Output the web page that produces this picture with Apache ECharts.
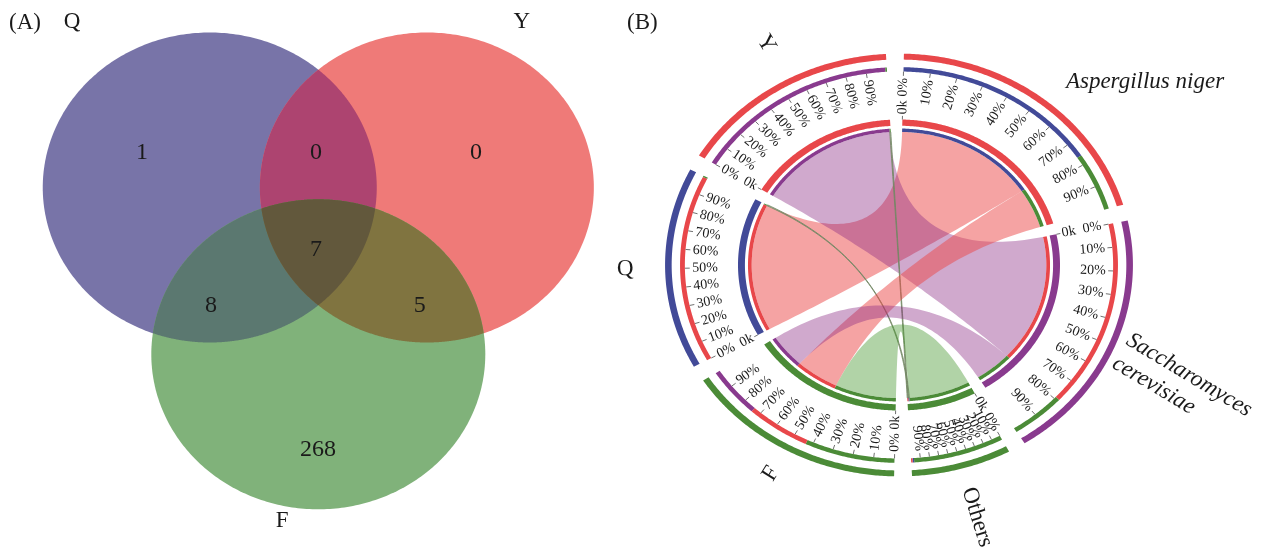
<!DOCTYPE html>
<html>
<head>
<meta charset="utf-8">
<script src="https://cdn.jsdelivr.net/npm/echarts@6/dist/echarts.min.js"></script>
<style>
  html, body { margin: 0; padding: 0; background: #ffffff; }
  #chart { width: 1282px; height: 559px; }
</style>
</head>
<body>
<div id="chart"></div>
<script>
// ---------- data ----------
// Venn: sets and the number of members in each region
const vennSets = ['Q', 'Y', 'F'];
const vennRegions = ['Q', 'Y', 'F', 'QY', 'QF', 'YF', 'QYF'];
const vennCounts = [1, 0, 268, 0, 8, 5, 7];

// Chord: flows from each sample to each taxon
const samples = ['Q', 'Y', 'F'];
const taxa = ['Aspergillus niger', 'Saccharomyces cerevisiae', 'Others'];
const flowQ = [55, 0, 0.4];
const flowY = [0, 55, 0.4];
const flowF = [17, 14.5, 24];
const percentTicks = ['0%', '10%', '20%', '30%', '40%', '50%', '60%', '70%', '80%', '90%'];
const startTickLabel = '0k';

// ---------- styling / layout ----------
const SERIF = '"Liberation Serif", "Times New Roman", serif';
const TEXT = '#1a1a1a';

const vennCenters = { Q: [-0.65, 0.358], Y: [0.65, 0.358], F: [0, -0.718] };
const vennFill = {
  Q: '#7874a8', Y: '#ef7a78', F: '#80b27a',
  QY: '#ad4470', QF: '#5b7870', YF: '#807440', QYF: '#62583c'
};
const vennLabelPos = {
  Q: [-1.055, 0.58], Y: [0.944, 0.58], F: [-0.002, -1.335],
  QY: [-0.014, 0.58], QF: [-0.642, -0.406], YF: [0.608, -0.406], QYF: [-0.014, -0.045]
};
const vennSetLabelPos = { Q: [-1.475, 1.426], Y: [1.219, 1.426], F: [-0.217, -1.794] };

// sectors clockwise from 12 o'clock
const sectorOrder = [taxa[0], taxa[1], taxa[2], samples[2], samples[0], samples[1]];
const RED = '#e8474a', BLUE = '#424a98', PURPLE = '#893a8e', GREEN = '#4b8b37';
const sectorColor = {
  'Aspergillus niger': RED, 'Saccharomyces cerevisiae': PURPLE, 'Others': GREEN,
  F: GREEN, Q: BLUE, Y: RED
};
const ribbonColor = {
  'Aspergillus niger': 'rgba(235,72,72,0.5)',
  'Saccharomyces cerevisiae': 'rgba(137,40,130,0.4)',
  'Others': 'rgba(70,150,45,0.42)'
};
// order in which links leave each sector (clockwise)
const linkOrder = {
  'Aspergillus niger': ['Q', 'F', 'Y'],
  'Saccharomyces cerevisiae': ['Y', 'F', 'Q'],
  'Others': ['F', 'Q', 'Y'],
  F: ['Others', 'Aspergillus niger', 'Saccharomyces cerevisiae'],
  Q: ['Aspergillus niger', 'Others', 'Saccharomyces cerevisiae'],
  Y: ['Saccharomyces cerevisiae', 'Others', 'Aspergillus niger']
};
// sector name placement
const nameLayout = {
  'Aspergillus niger': { pos: [1.528, 1.258], rotate: 0, align: 'center', vAlign: 'middle', italic: true },
  'Saccharomyces cerevisiae': { pos: [1.466, -0.426], rotate: -31, align: 'left', vAlign: 'top', italic: true, text: 'Saccharomyces\ncerevisiae' },
  'Others': { r: 1.80, shift: 0 },
  F: { r: 1.64, shift: 0 },
  Q: { r: 1.70, shift: 0 },
  Y: { r: 1.73, shift: 2.5 }
};
const R = {
  ribbon: 0.915, barIn: 0.915, barOut: 0.938, gridIn: 0.957, gridOut: 1.0,
  startTickOut: 1.025, startLabel: 1.035,
  pctTickIn: 1.30, pctLabel: 1.285, ring2In: 1.33, ring2Out: 1.36, ring1In: 1.412, ring1Out: 1.453
};
const GAP = 4.4, START = 1.2;

// ---------- chord layout ----------
const flows = { Q: flowQ, Y: flowY, F: flowF };
function flowBetween(a, b) {
  if (flows[a]) return flows[a][taxa.indexOf(b)] || 0;
  return flows[b][taxa.indexOf(a)] || 0;
}
const totals = {};
sectorOrder.forEach(n => { totals[n] = linkOrder[n].reduce((s, p) => s + flowBetween(n, p), 0); });
const grand = sectorOrder.reduce((s, n) => s + totals[n], 0);
const degPerUnit = (360 - GAP * sectorOrder.length) / grand;
const sectors = [];
(function () {
  let a = START;
  sectorOrder.forEach(name => {
    const span = totals[name] * degPerUnit;
    const seg = { name, start: a, end: a + span, parts: [] };
    let b = a;
    linkOrder[name].forEach(p => {
      const v = flowBetween(name, p);
      if (v > 0) { seg.parts.push({ partner: p, start: b, end: b + v * degPerUnit }); b += v * degPerUnit; }
    });
    sectors.push(seg);
    a += span + GAP;
  });
})();
const links = [];
samples.forEach(s => taxa.forEach(t => {
  const v = flowBetween(s, t);
  if (v > 0) links.push({ source: s, target: t, value: v });
}));
function part(name, partner) {
  return sectors.find(x => x.name === name).parts.find(p => p.partner === partner);
}

// ---------- geometry helpers (axis space) ----------
function polar(r, deg) { const t = deg * Math.PI / 180; return [r * Math.sin(t), r * Math.cos(t)]; }
function arcPts(r, a0, a1) {
  const n = Math.max(2, Math.ceil(Math.abs(a1 - a0) / 0.5));
  const out = [];
  for (let i = 0; i <= n; i++) out.push(polar(r, a0 + (a1 - a0) * i / n));
  return out;
}
function band(api, rIn, rOut, a0, a1) {
  return arcPts(rOut, a0, a1).concat(arcPts(rIn, a1, a0)).map(p => api.coord(p));
}
function quad(p0, c, p2, n) {
  const out = [];
  for (let i = 1; i < n; i++) {
    const t = i / n, u = 1 - t;
    out.push([u * u * p0[0] + 2 * u * t * c[0] + t * t * p2[0], u * u * p0[1] + 2 * u * t * c[1] + t * t * p2[1]]);
  }
  return out;
}
// radial text; anchorOuter = the text's outer end sits on the anchor
function radialText(api, r, deg, text, anchorOuter, font) {
  const p = api.coord(polar(r, deg));
  const q = api.coord(polar(r + 0.1, deg));
  const dx = q[0] - p[0], dy = q[1] - p[1];
  const d = ((deg % 360) + 360) % 360;
  const right = d < 180;
  const rot = right ? Math.atan2(-dy, dx) : Math.atan2(dy, -dx);
  let align;
  if (right) align = anchorOuter ? 'right' : 'left';
  else align = anchorOuter ? 'left' : 'right';
  return {
    type: 'text', x: p[0], y: p[1], rotation: rot,
    style: { text, font, fill: TEXT, align, verticalAlign: 'middle' }
  };
}

// ---------- venn helpers ----------
function circlePts(c, n) {
  const out = [];
  for (let i = 0; i < n; i++) { const t = 2 * Math.PI * i / n; out.push([c[0] + Math.cos(t), c[1] + Math.sin(t)]); }
  return out;
}
function inside(p, c) { return (p[0] - c[0]) ** 2 + (p[1] - c[1]) ** 2 <= 1 + 1e-9; }
function regionPolygon(key) {
  const sets = key.split('');
  if (sets.length === 1) return circlePts(vennCenters[key], 360);
  const pts = [];
  sets.forEach(s => {
    const others = sets.filter(o => o !== s);
    circlePts(vennCenters[s], 1440).forEach(p => { if (others.every(o => inside(p, vennCenters[o]))) pts.push(p); });
  });
  const cx = pts.reduce((s, p) => s + p[0], 0) / pts.length;
  const cy = pts.reduce((s, p) => s + p[1], 0) / pts.length;
  pts.sort((a, b) => Math.atan2(a[1] - cy, a[0] - cx) - Math.atan2(b[1] - cy, b[0] - cx));
  return pts;
}

// ---------- chart ----------
const chart = echarts.init(document.getElementById('chart'), null, { renderer: 'canvas' });

const option = {
  animation: false,
  backgroundColor: '#ffffff',
  title: [
    { text: '(A)', left: 4, top: 6, textStyle: { fontFamily: SERIF, fontSize: 23, fontWeight: 'normal', color: TEXT } },
    { text: '(B)', left: 622, top: 6, textStyle: { fontFamily: SERIF, fontSize: 23, fontWeight: 'normal', color: TEXT } }
  ],
  grid: [
    { left: 17.7, top: 10.5, width: 601.2, height: 465, outerBoundsMode: 'none' },
    { left: 512.6, top: 3.1, width: 772.8, height: 523.8, outerBoundsMode: 'none' }
  ],
  xAxis: [
    { gridIndex: 0, type: 'value', min: -1.8, max: 1.8, show: false },
    { gridIndex: 1, type: 'value', min: -2.4, max: 2.4, show: false }
  ],
  yAxis: [
    { gridIndex: 0, type: 'value', min: -1.5, max: 1.5, show: false },
    { gridIndex: 1, type: 'value', min: -1.8, max: 1.8, show: false }
  ],
  series: [
    // Venn regions
    {
      type: 'custom', coordinateSystem: 'cartesian2d', xAxisIndex: 0, yAxisIndex: 0, z: 1,
      silent: true,
      data: vennRegions.map((r, i) => [i, vennCounts[i]]),
      renderItem(params, api) {
        const key = vennRegions[params.dataIndex];
        return {
          type: 'polygon',
          shape: { points: regionPolygon(key).map(p => api.coord(p)) },
          style: { fill: vennFill[key] }
        };
      }
    },
    // Venn counts
    {
      type: 'custom', coordinateSystem: 'cartesian2d', xAxisIndex: 0, yAxisIndex: 0, z: 3,
      silent: true,
      data: vennRegions.map((r, i) => [i, vennCounts[i]]),
      renderItem(params, api) {
        const key = vennRegions[params.dataIndex];
        const p = api.coord(vennLabelPos[key]);
        return {
          type: 'text', x: p[0], y: p[1],
          style: { text: String(api.value(1)), font: '24px ' + SERIF, fill: TEXT, align: 'center', verticalAlign: 'middle' }
        };
      }
    },
    // Venn set names
    {
      type: 'custom', coordinateSystem: 'cartesian2d', xAxisIndex: 0, yAxisIndex: 0, z: 3,
      silent: true,
      data: vennSets.map((s, i) => [i, 0]),
      renderItem(params, api) {
        const s = vennSets[params.dataIndex];
        const p = api.coord(vennSetLabelPos[s]);
        return {
          type: 'text', x: p[0], y: p[1],
          style: { text: s, font: '23px ' + SERIF, fill: TEXT, align: 'center', verticalAlign: 'middle' }
        };
      }
    },
    // chord ribbons
    {
      type: 'custom', coordinateSystem: 'cartesian2d', xAxisIndex: 1, yAxisIndex: 1, z: 1,
      silent: true,
      data: links.map((l, i) => [i, l.value]),
      renderItem(params, api) {
        const l = links[params.dataIndex];
        const A = part(l.source, l.target), B = part(l.target, l.source);
        const r = R.ribbon, c = [0, 0];
        let pts = arcPts(r, A.start, A.end);
        pts = pts.concat(quad(polar(r, A.end), c, polar(r, B.start), 60));
        pts = pts.concat(arcPts(r, B.start, B.end));
        pts = pts.concat(quad(polar(r, B.end), c, polar(r, A.start), 60));
        const thin = api.value(1) < 1;
        return {
          type: 'polygon',
          shape: { points: pts.map(p => api.coord(p)) },
          style: thin
            ? { fill: 'rgba(110,140,95,0.5)', stroke: 'rgba(115,135,100,0.85)', lineWidth: 1 }
            : { fill: ribbonColor[l.target] }
        };
      }
    },
    // chord sectors: grid ring, link bars, composition rings, axes and names
    {
      type: 'custom', coordinateSystem: 'cartesian2d', xAxisIndex: 1, yAxisIndex: 1, z: 2,
      silent: true,
      data: sectors.map((s, i) => [i, totals[s.name]]),
      renderItem(params, api) {
        const s = sectors[params.dataIndex];
        const col = sectorColor[s.name];
        const kids = [];
        kids.push({ type: 'polygon', shape: { points: band(api, R.gridIn, R.gridOut, s.start, s.end) }, style: { fill: col } });
        kids.push({ type: 'polygon', shape: { points: band(api, R.ring1In, R.ring1Out, s.start, s.end) }, style: { fill: col } });
        s.parts.forEach(p => {
          const pc = sectorColor[p.partner];
          kids.push({ type: 'polygon', shape: { points: band(api, R.barIn, R.barOut, p.start, p.end) }, style: { fill: pc } });
          kids.push({ type: 'polygon', shape: { points: band(api, R.ring2In, R.ring2Out, p.start, p.end) }, style: { fill: pc } });
        });
        // percentage axis on the composition ring
        percentTicks.forEach(lab => {
          const f = parseFloat(lab) / 100;
          const deg = s.start + (s.end - s.start) * f;
          const a = api.coord(polar(R.ring2In, deg)), b = api.coord(polar(R.pctTickIn, deg));
          kids.push({ type: 'line', shape: { x1: a[0], y1: a[1], x2: b[0], y2: b[1] }, style: { stroke: '#707070', lineWidth: 1 } });
          kids.push(radialText(api, R.pctLabel, deg, lab, true, '14px ' + SERIF));
        });
        // start tick of the value axis
        const a0 = api.coord(polar(R.gridOut, s.start)), b0 = api.coord(polar(R.startTickOut, s.start));
        kids.push({ type: 'line', shape: { x1: a0[0], y1: a0[1], x2: b0[0], y2: b0[1] }, style: { stroke: '#707070', lineWidth: 1 } });
        kids.push(radialText(api, R.startLabel, s.start, startTickLabel, false, '14px ' + SERIF));
        // sector name
        const nl = nameLayout[s.name];
        if (nl.pos) {
          const p = api.coord(nl.pos);
          kids.push({
            type: 'text', x: p[0], y: p[1], rotation: nl.rotate * Math.PI / 180,
            style: {
              text: nl.text || s.name, font: (nl.italic ? 'italic ' : '') + '23px ' + SERIF,
              fill: TEXT, align: nl.align, verticalAlign: nl.vAlign, lineHeight: 27
            }
          });
        } else {
          const mid = (s.start + s.end) / 2 + nl.shift;
          const t = radialText(api, nl.r, mid, s.name, true, '23px ' + SERIF);
          t.style.align = 'center';
          kids.push(t);
        }
        return { type: 'group', children: kids };
      }
    }
  ]
};
chart.setOption(option);
</script>
</body>
</html>
